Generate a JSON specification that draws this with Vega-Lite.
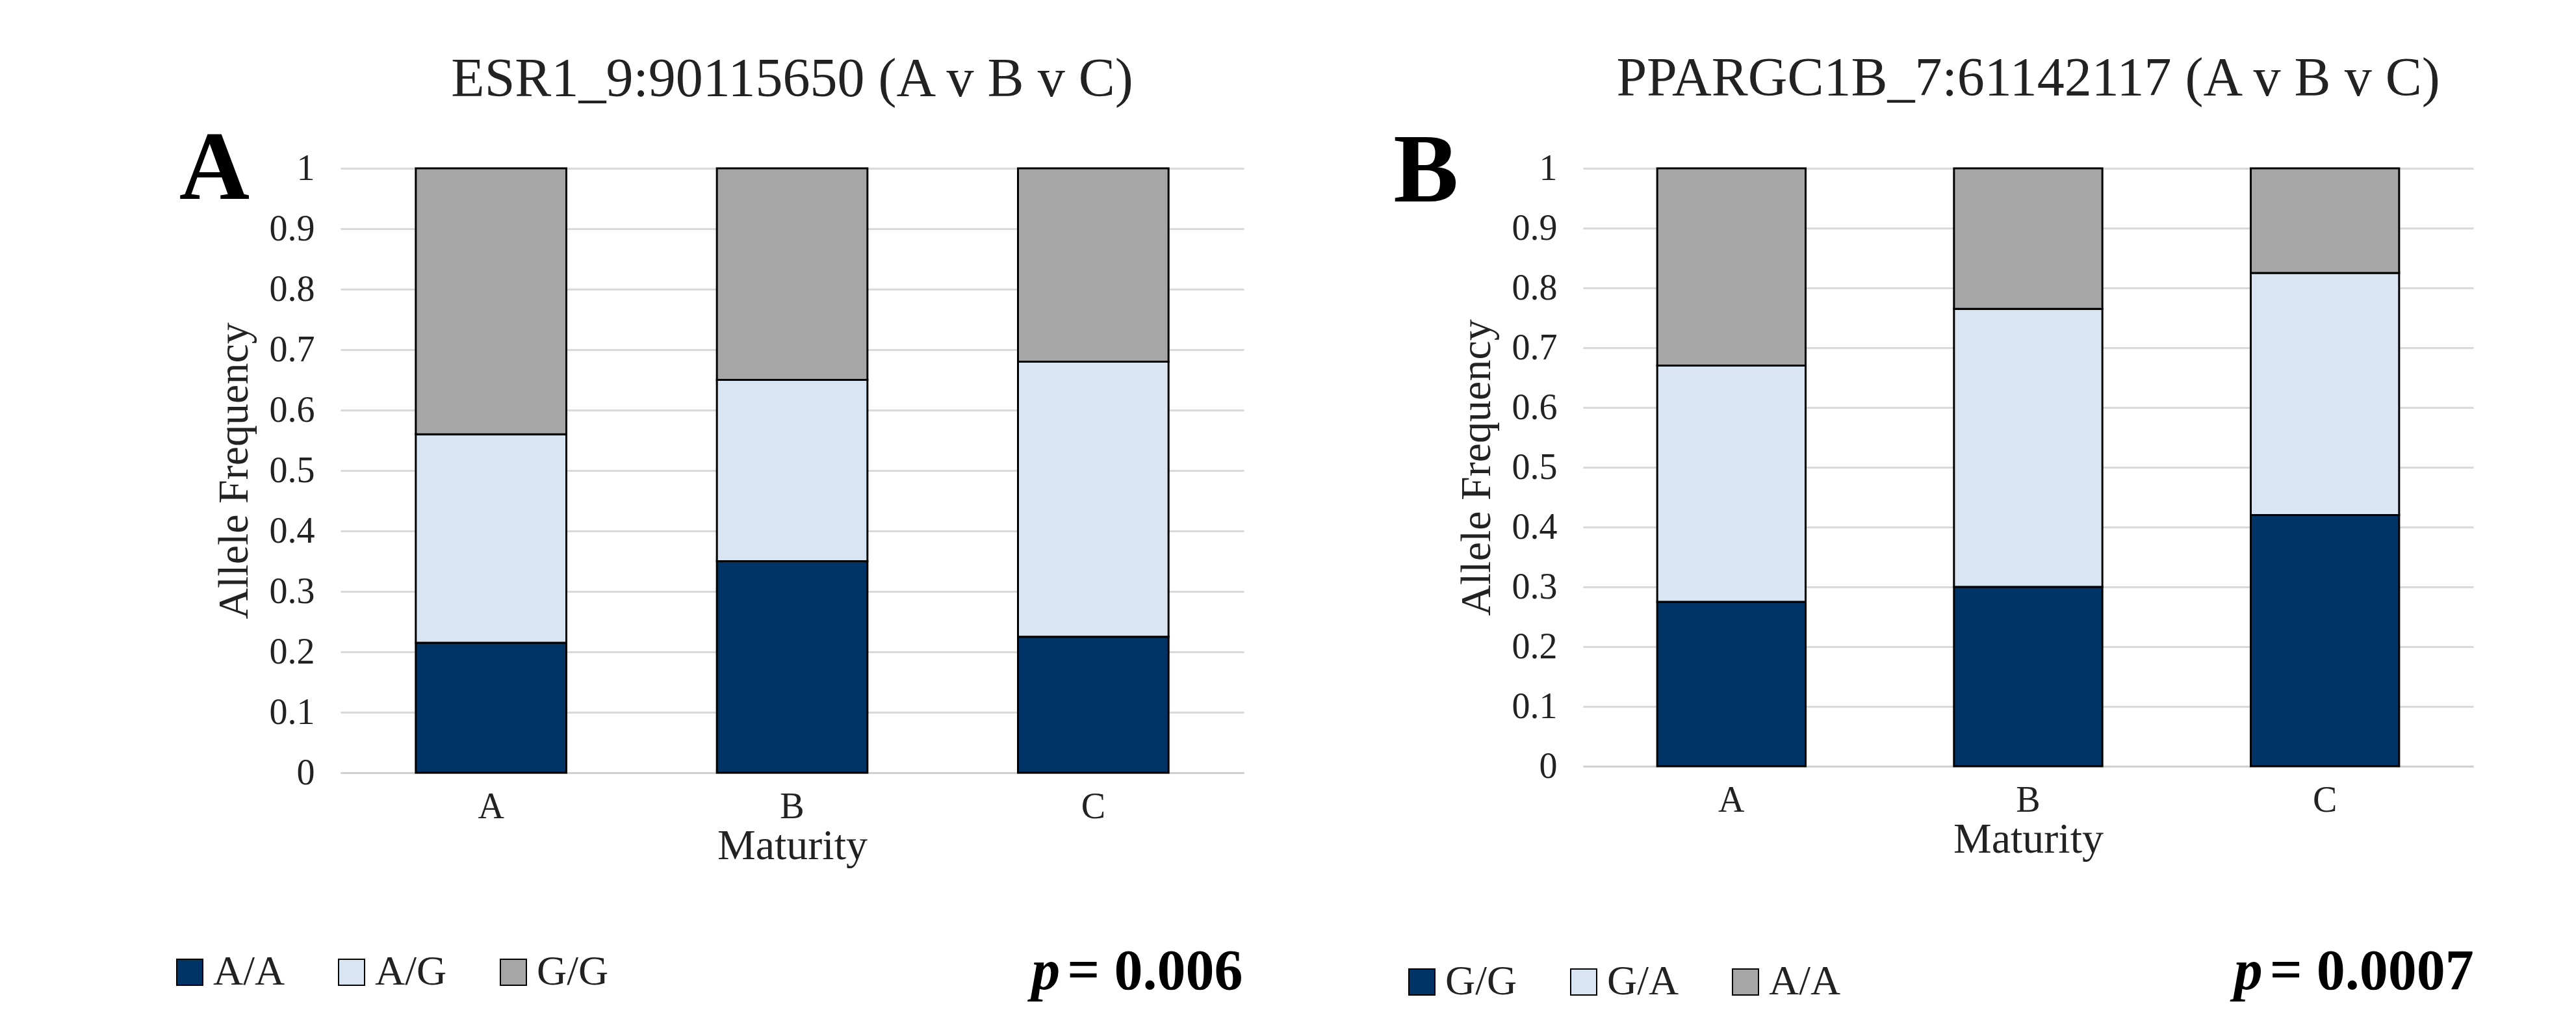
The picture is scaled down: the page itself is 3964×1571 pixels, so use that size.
{
"$schema":"https://vega.github.io/schema/vega-lite/v6.json",
"background":"white",
"padding":{"left":260,"top":80,"right":40,"bottom":40},
"config":{"font":"Liberation Serif","view":{"stroke":null},
"axis":{"labelFont":"Liberation Serif","titleFont":"Liberation Serif","labelFontSize":56,"titleFontSize":66,"titleFontWeight":"normal","labelColor":"#222","titleColor":"#222"},
"legend":{"labelFont":"Liberation Serif","labelFontSize":64,"symbolSize":1600,"symbolType":"square","symbolStrokeColor":"black","symbolStrokeWidth":2,"orient":"none","direction":"horizontal","columnPadding":70,"labelColor":"#222"},
"title":{"font":"Liberation Serif","fontSize":84,"fontWeight":"normal","color":"#222"}},
"resolve":{"scale":{"color":"independent"},"legend":{"color":"independent"}},
"spacing":230,
"hconcat":[
{"width":1390,"height":930,
"title":{"text":"ESR1_9:90115650 (A v B v C)","offset":20},
"layer":[
{"data":{"values":[
{"m":"A","g":"A/A","o":1,"v":0.215},{"m":"A","g":"A/G","o":2,"v":0.345},{"m":"A","g":"G/G","o":3,"v":0.44},
{"m":"B","g":"A/A","o":1,"v":0.35},{"m":"B","g":"A/G","o":2,"v":0.30},{"m":"B","g":"G/G","o":3,"v":0.35},
{"m":"C","g":"A/A","o":1,"v":0.225},{"m":"C","g":"A/G","o":2,"v":0.455},{"m":"C","g":"G/G","o":3,"v":0.32}]},
"mark":{"type":"bar","stroke":"black","strokeWidth":3},
"encoding":{
"x":{"field":"m","type":"nominal","title":"Maturity","scale":{"paddingInner":0.5,"paddingOuter":0.25},"axis":{"labelAngle":0,"ticks":false,"domainColor":"#d0d0d0","domainWidth":3,"labelPadding":25,"titlePadding":0}},
"y":{"field":"v","type":"quantitative","aggregate":"sum","title":"Allele Frequency","scale":{"domain":[0,1]},"axis":{"values":[0,0.1,0.2,0.3,0.4,0.5,0.6,0.7,0.8,0.9,1],"format":"~g","domain":false,"ticks":false,"gridColor":"#d9d9d9","gridWidth":3,"labelPadding":40,"titlePadding":20}},
"color":{"field":"g","type":"nominal","scale":{"domain":["A/A","A/G","G/G"],"range":["#003366","#dae5f3","#a6a6a6"]},"legend":{"title":null,"legendX":-264,"legendY":1205}},
"order":{"field":"o"}}},
{"data":{"values":[{"t":"A"}]},"mark":{"type":"text","fontSize":150,"fontWeight":"bold","align":"left","dx":-480,"dy":-45,"color":"black"},
"encoding":{"text":{"field":"t"},"x":{"datum":"A"},"y":{"datum":0.95}}},
{"data":{"values":[{"t":"p"}]},"mark":{"type":"text","fontSize":88,"fontWeight":"bold","fontStyle":"italic","align":"left","dx":-95,"color":"black"},
"encoding":{"text":{"field":"t"},"x":{"datum":"C"},"y":{"datum":-0.33}}},
{"data":{"values":[{"t":"= 0.006"}]},"mark":{"type":"text","fontSize":88,"fontWeight":"bold","align":"left","dx":-40,"color":"black"},
"encoding":{"text":{"field":"t"},"x":{"datum":"C"},"y":{"datum":-0.33}}}
]},
{"width":1370,"height":920,
"title":{"text":"PPARGC1B_7:61142117 (A v B v C)","offset":25},
"layer":[
{"data":{"values":[
{"m":"A","g":"G/G","o":1,"v":0.275},{"m":"A","g":"G/A","o":2,"v":0.395},{"m":"A","g":"A/A","o":3,"v":0.33},
{"m":"B","g":"G/G","o":1,"v":0.30},{"m":"B","g":"G/A","o":2,"v":0.465},{"m":"B","g":"A/A","o":3,"v":0.235},
{"m":"C","g":"G/G","o":1,"v":0.42},{"m":"C","g":"G/A","o":2,"v":0.405},{"m":"C","g":"A/A","o":3,"v":0.175}]},
"mark":{"type":"bar","stroke":"black","strokeWidth":3},
"encoding":{
"x":{"field":"m","type":"nominal","title":"Maturity","scale":{"paddingInner":0.5,"paddingOuter":0.25},"axis":{"labelAngle":0,"ticks":false,"domainColor":"#d0d0d0","domainWidth":3,"labelPadding":25,"titlePadding":0}},
"y":{"field":"v","type":"quantitative","aggregate":"sum","title":"Allele Frequency","scale":{"domain":[0,1]},"axis":{"values":[0,0.1,0.2,0.3,0.4,0.5,0.6,0.7,0.8,0.9,1],"format":"~g","domain":false,"ticks":false,"gridColor":"#d9d9d9","gridWidth":3,"labelPadding":40,"titlePadding":20}},
"color":{"field":"g","type":"nominal","scale":{"domain":["G/G","G/A","A/A"],"range":["#003366","#dae5f3","#a6a6a6"]},"legend":{"title":null,"legendX":-280,"legendY":1220}},
"order":{"field":"o"}}},
{"data":{"values":[{"t":"B"}]},"mark":{"type":"text","fontSize":150,"fontWeight":"bold","align":"left","dx":-520,"dy":-40,"color":"black"},
"encoding":{"text":{"field":"t"},"x":{"datum":"A"},"y":{"datum":0.95}}},
{"data":{"values":[{"t":"p"}]},"mark":{"type":"text","fontSize":88,"fontWeight":"bold","fontStyle":"italic","align":"left","dx":-140,"color":"black"},
"encoding":{"text":{"field":"t"},"x":{"datum":"C"},"y":{"datum":-0.345}}},
{"data":{"values":[{"t":"= 0.0007"}]},"mark":{"type":"text","fontSize":88,"fontWeight":"bold","align":"left","dx":-85,"color":"black"},
"encoding":{"text":{"field":"t"},"x":{"datum":"C"},"y":{"datum":-0.345}}}
]}
]}
